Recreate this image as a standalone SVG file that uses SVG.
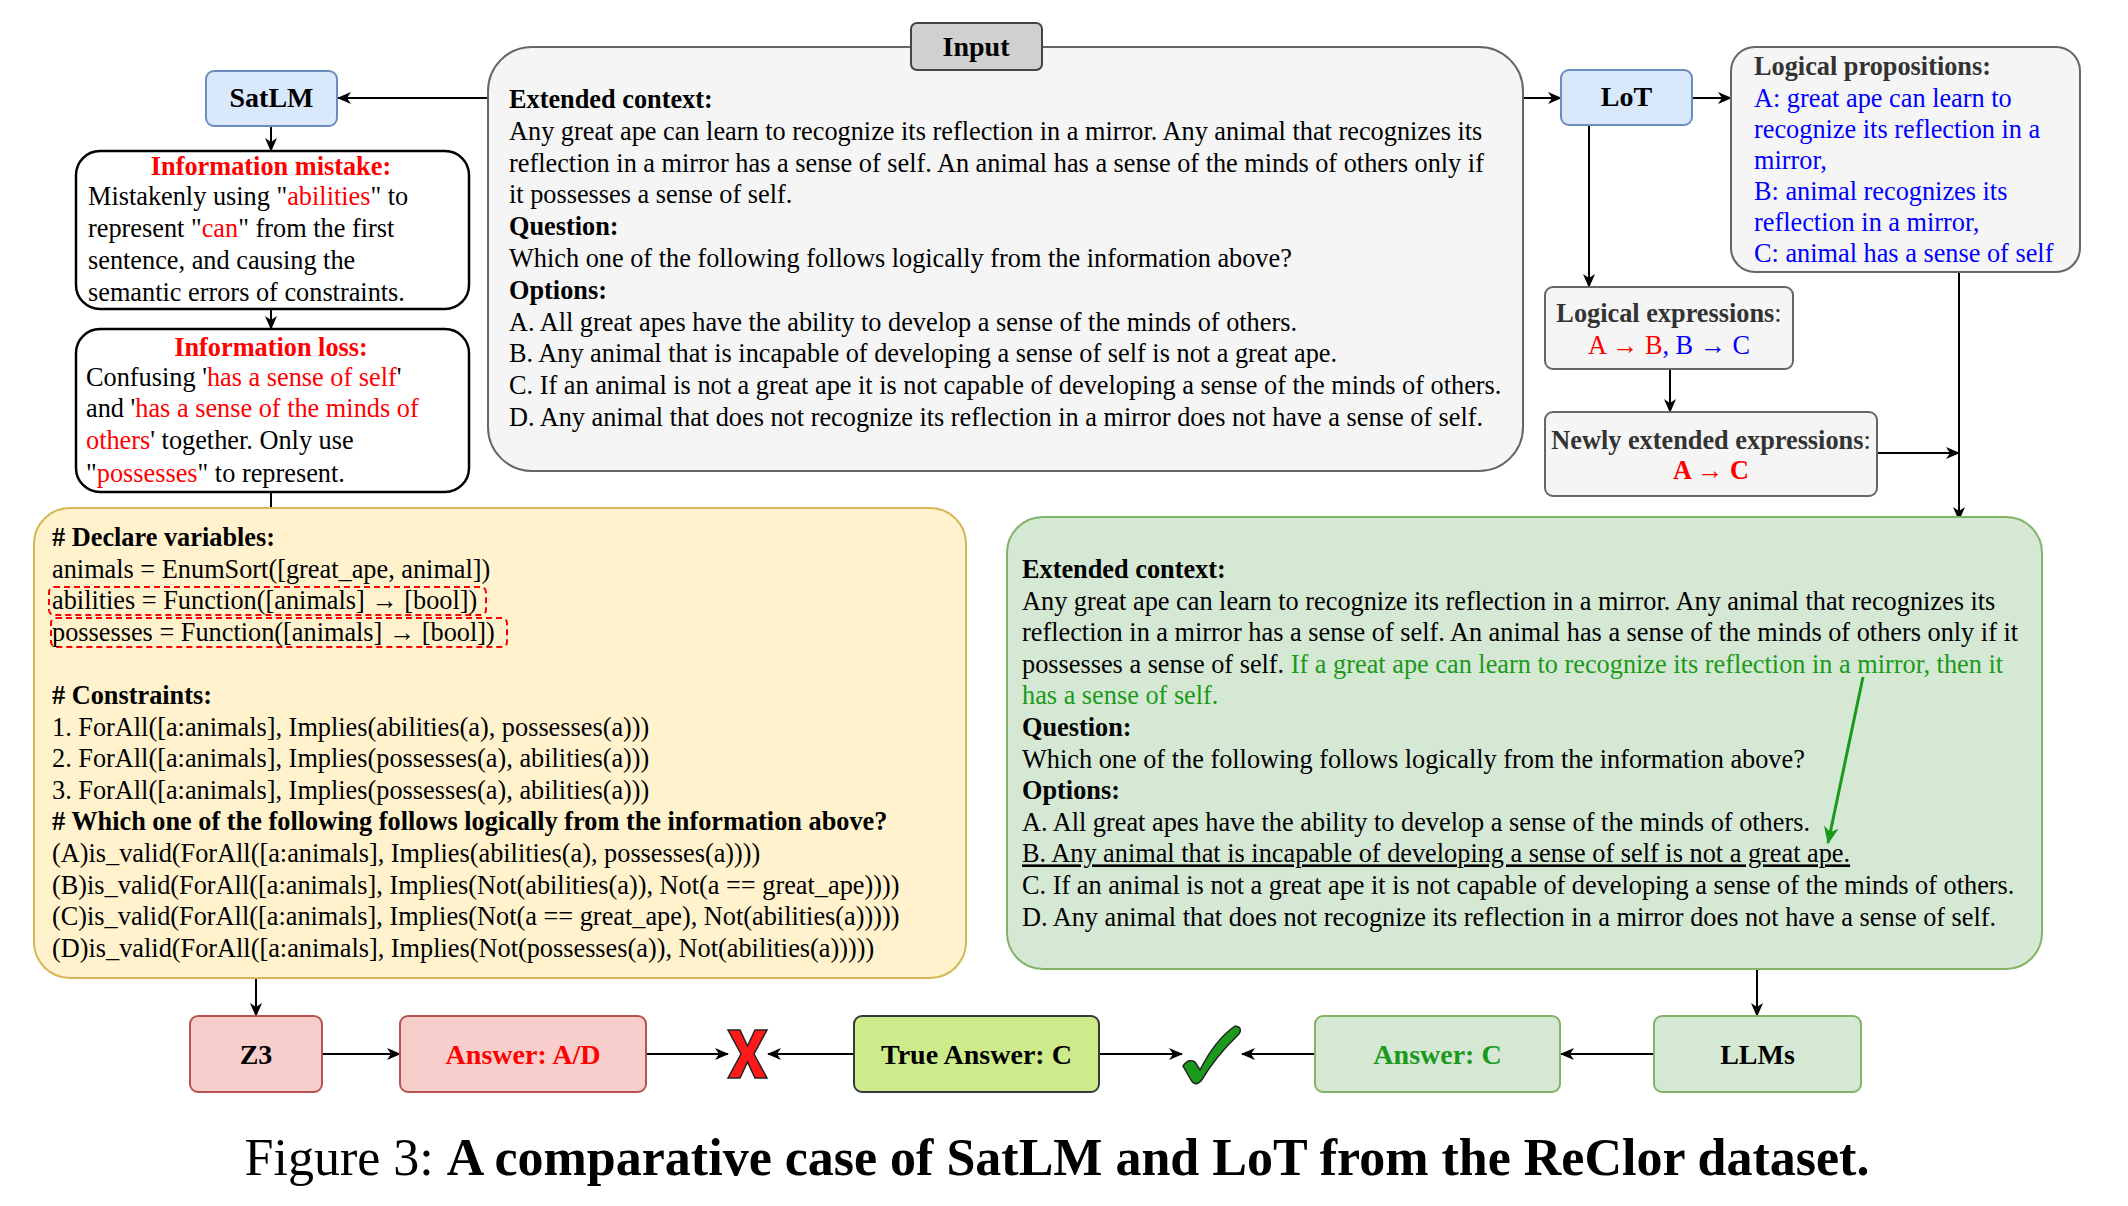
<svg xmlns="http://www.w3.org/2000/svg" width="2128" height="1206" viewBox="0 0 2128 1206">
<defs>
<style>
text{font-family:"Liberation Serif","Times New Roman",serif;font-size:26.3px;fill:#000}
.b{font-weight:bold}
.r{fill:#ff0000}
.bl{fill:#0000ff}
.g{fill:#1a9a1a}
.dg{fill:#333333}
.mid{text-anchor:middle}
.lbl{font-size:28px;font-weight:bold;text-anchor:middle}
.conn{stroke:#000;stroke-width:2;fill:none}
.gray{fill:#f5f5f5;stroke:#666666;stroke-width:2}
.blue{fill:#dae8fc;stroke:#6c8ebf;stroke-width:2}
.redb{fill:#f8cecc;stroke:#b85450;stroke-width:2}
.grn{fill:#d5e8d4;stroke:#82b366;stroke-width:2}
.info{fill:#ffffff;stroke:#000;stroke-width:2.5}
</style>
<marker id="ah" viewBox="0 0 14 12" refX="13" refY="6" markerWidth="14" markerHeight="12" orient="auto" markerUnits="userSpaceOnUse"><path d="M0,0 L14,6 L0,12 L4,6 z" fill="#000"/></marker>
<marker id="ahg" viewBox="0 0 14 12" refX="13" refY="6" markerWidth="18" markerHeight="15" orient="auto" markerUnits="userSpaceOnUse"><path d="M0,0 L14,6 L0,12 L4,6 z" fill="#1a9a1a"/></marker>
</defs>
<rect width="2128" height="1206" fill="#ffffff"/>

<g id="connectors">
<path class="conn" d="M488,98 H338" marker-end="url(#ah)"/>
<path class="conn" d="M271,126 V151" marker-end="url(#ah)"/>
<path class="conn" d="M271,309 V329" marker-end="url(#ah)"/>
<path class="conn" d="M271,492 V508"/>
<path class="conn" d="M256,978 V1016" marker-end="url(#ah)"/>
<path class="conn" d="M322,1054 H400" marker-end="url(#ah)"/>
<path class="conn" d="M646,1054 H728" marker-end="url(#ah)"/>
<path class="conn" d="M854,1054 H768" marker-end="url(#ah)"/>
<path class="conn" d="M1099,1054 H1182" marker-end="url(#ah)"/>
<path class="conn" d="M1315,1054 H1242" marker-end="url(#ah)"/>
<path class="conn" d="M1654,1054 H1561" marker-end="url(#ah)"/>
<path class="conn" d="M1757,969 V1016" marker-end="url(#ah)"/>
<path class="conn" d="M1523,98 H1561" marker-end="url(#ah)"/>
<path class="conn" d="M1692,98 H1731" marker-end="url(#ah)"/>
<path class="conn" d="M1589,125 V287" marker-end="url(#ah)"/>
<path class="conn" d="M1670,369 V412" marker-end="url(#ah)"/>
<path class="conn" d="M1877,453 H1959" marker-end="url(#ah)"/>
<path class="conn" d="M1959,272 V520" marker-end="url(#ah)"/>
</g>

<g id="input">
<rect class="gray" x="488" y="47" width="1035" height="424" rx="44"/>
<rect x="911" y="23" width="131" height="47" rx="6" fill="#d0d0d0" stroke="#444" stroke-width="2"/>
<text class="lbl" x="976" y="56">Input</text>
<text x="509" y="108" class="b">Extended context:</text>
<text x="509" y="139.8">Any great ape can learn to recognize its reflection in a mirror. Any animal that recognizes its</text>
<text x="509" y="171.6">reflection in a mirror has a sense of self. An animal has a sense of the minds of others only if</text>
<text x="509" y="203.4">it possesses a sense of self.</text>
<text x="509" y="235.2" class="b">Question:</text>
<text x="509" y="267">Which one of the following follows logically from the information above?</text>
<text x="509" y="298.8" class="b">Options:</text>
<text x="509" y="330.6">A. All great apes have the ability to develop a sense of the minds of others.</text>
<text x="509" y="362.4">B. Any animal that is incapable of developing a sense of self is not a great ape.</text>
<text x="509" y="394.2">C. If an animal is not a great ape it is not capable of developing a sense of the minds of others.</text>
<text x="509" y="426">D. Any animal that does not recognize its reflection in a mirror does not have a sense of self.</text>
</g>

<g id="satlm">
<rect class="blue" x="206" y="71" width="131" height="55" rx="8"/>
<text class="lbl" x="271.5" y="107">SatLM</text>
</g>

<g id="info-mistake">
<rect class="info" x="76" y="151" width="393" height="158" rx="24"/>
<text class="b r mid" x="271" y="175">Information mistake:</text>
<text x="88" y="205">Mistakenly using "<tspan class="r">abilities</tspan>" to</text>
<text x="88" y="237">represent "<tspan class="r">can</tspan>" from the first</text>
<text x="88" y="269">sentence, and causing the</text>
<text x="88" y="301">semantic errors of constraints.</text>
</g>

<g id="info-loss">
<rect class="info" x="76" y="329" width="393" height="163" rx="24"/>
<text class="b r mid" x="271" y="356">Information loss:</text>
<text x="86" y="386">Confusing '<tspan class="r">has a sense of self</tspan>'</text>
<text x="86" y="417">and '<tspan class="r">has a sense of the minds of</tspan></text>
<text x="86" y="449"><tspan class="r">others</tspan>' together. Only use</text>
<text x="86" y="482">"<tspan class="r">possesses</tspan>" to represent.</text>
</g>

<g id="satlm-code">
<rect x="34" y="508" width="932" height="470" rx="36" fill="#fff2cc" stroke="#d6b656" stroke-width="2"/>
<rect x="49" y="587" width="437" height="28" rx="5" fill="none" stroke="#ff0000" stroke-width="2" stroke-dasharray="6 4"/>
<rect x="51" y="618" width="456" height="29" rx="5" fill="none" stroke="#ff0000" stroke-width="2" stroke-dasharray="6 4"/>
<text x="52" y="546" class="b"># Declare variables:</text>
<text x="52" y="577.6">animals = EnumSort([great_ape, animal])</text>
<text x="52" y="609.2">abilities = Function([animals] → [bool])</text>
<text x="52" y="640.8">possesses = Function([animals] → [bool])</text>
<text x="52" y="704" class="b"># Constraints:</text>
<text x="52" y="735.6">1. ForAll([a:animals], Implies(abilities(a), possesses(a)))</text>
<text x="52" y="767.2">2. ForAll([a:animals], Implies(possesses(a), abilities(a)))</text>
<text x="52" y="798.8">3. ForAll([a:animals], Implies(possesses(a), abilities(a)))</text>
<text x="52" y="830.4" class="b"># Which one of the following follows logically from the information above?</text>
<text x="52" y="862">(A)is_valid(ForAll([a:animals], Implies(abilities(a), possesses(a))))</text>
<text x="52" y="893.6">(B)is_valid(ForAll([a:animals], Implies(Not(abilities(a)), Not(a == great_ape))))</text>
<text x="52" y="925.2">(C)is_valid(ForAll([a:animals], Implies(Not(a == great_ape), Not(abilities(a)))))</text>
<text x="52" y="956.8">(D)is_valid(ForAll([a:animals], Implies(Not(possesses(a)), Not(abilities(a)))))</text>
</g>

<g id="lot">
<rect class="blue" x="1561" y="70" width="131" height="55" rx="8"/>
<text class="lbl" x="1626.5" y="106">LoT</text>
</g>

<g id="logical-propositions">
<rect class="gray" x="1731" y="47" width="349" height="225" rx="24"/>
<text x="1754" y="75" class="b dg">Logical propositions:</text>
<text x="1754" y="106.5" class="bl">A: great ape can learn to</text>
<text x="1754" y="137.5" class="bl">recognize its reflection in a</text>
<text x="1754" y="168.5" class="bl">mirror,</text>
<text x="1754" y="199.5" class="bl">B: animal recognizes its</text>
<text x="1754" y="230.5" class="bl">reflection in a mirror,</text>
<text x="1754" y="261.5" class="bl">C: animal has a sense of self</text>
</g>

<g id="logical-expressions">
<rect class="gray" x="1545" y="287" width="248" height="82" rx="8"/>
<text class="mid dg" x="1669" y="322"><tspan class="b">Logical expressions</tspan>:</text>
<text class="mid" x="1669" y="354"><tspan class="r">A → B</tspan><tspan class="bl">, B → C</tspan></text>
</g>

<g id="newly-extended">
<rect class="gray" x="1545" y="412" width="332" height="84" rx="8"/>
<text class="mid dg" x="1711" y="449"><tspan class="b">Newly extended expressions</tspan>:</text>
<text class="mid b r" x="1711" y="479">A → C</text>
</g>

<g id="lot-extended">
<rect class="grn" x="1007" y="517" width="1035" height="452" rx="36"/>
<text x="1022" y="578" class="b">Extended context:</text>
<text x="1022" y="609.6">Any great ape can learn to recognize its reflection in a mirror. Any animal that recognizes its</text>
<text x="1022" y="641.2">reflection in a mirror has a sense of self. An animal has a sense of the minds of others only if it</text>
<text x="1022" y="672.8">possesses a sense of self. <tspan class="g">If a great ape can learn to recognize its reflection in a mirror, then it</tspan></text>
<text x="1022" y="704.4" class="g">has a sense of self.</text>
<text x="1022" y="736" class="b">Question:</text>
<text x="1022" y="767.6">Which one of the following follows logically from the information above?</text>
<text x="1022" y="799.2" class="b">Options:</text>
<text x="1022" y="830.8">A. All great apes have the ability to develop a sense of the minds of others.</text>
<text x="1022" y="862.4" text-decoration="underline">B. Any animal that is incapable of developing a sense of self is not a great ape.</text>
<text x="1022" y="894">C. If an animal is not a great ape it is not capable of developing a sense of the minds of others.</text>
<text x="1022" y="925.6">D. Any animal that does not recognize its reflection in a mirror does not have a sense of self.</text>
<path d="M1863,677 L1828,843" stroke="#1a9a1a" stroke-width="3" fill="none" marker-end="url(#ahg)"/>
</g>

<g id="z3">
<rect class="redb" x="190" y="1016" width="132" height="76" rx="8"/>
<text class="lbl" x="256" y="1064">Z3</text>
</g>
<g id="answer-ad">
<rect class="redb" x="400" y="1016" width="246" height="76" rx="8"/>
<text class="lbl r" x="523" y="1064">Answer: A/D</text>
</g>
<g id="cross">
<polygon points="728,1030 740,1030 747.5,1046 755,1030 767,1030 754,1054 767,1078 755,1078 747.5,1062 740,1078 728,1078 741,1054" fill="#ff1a1a" stroke="#222" stroke-width="1.5"/>
</g>
<g id="true-answer">
<rect x="854" y="1016" width="245" height="76" rx="8" fill="#cdeb8b" stroke="#36393d" stroke-width="2"/>
<text class="lbl" x="976.5" y="1064">True Answer: C</text>
</g>
<g id="check">
<path d="M1183,1066 Q1188,1058 1195,1062 L1200,1070 Q1215,1040 1235,1026 Q1243,1027 1239,1034 Q1216,1056 1201,1081 Q1195,1087 1191,1080 Z" fill="#1a9a1a" stroke="#222" stroke-width="1.5"/>
</g>
<g id="answer-c">
<rect class="grn" x="1315" y="1016" width="245" height="76" rx="8"/>
<text class="lbl g" x="1437.5" y="1064">Answer: C</text>
</g>
<g id="llms">
<rect class="grn" x="1654" y="1016" width="207" height="76" rx="8"/>
<text class="lbl" x="1757.5" y="1064">LLMs</text>
</g>

<text x="1057" y="1175" class="mid" style="font-size:52px">Figure 3: <tspan class="b">A comparative case of SatLM and LoT from the ReClor dataset.</tspan></text>
</svg>
